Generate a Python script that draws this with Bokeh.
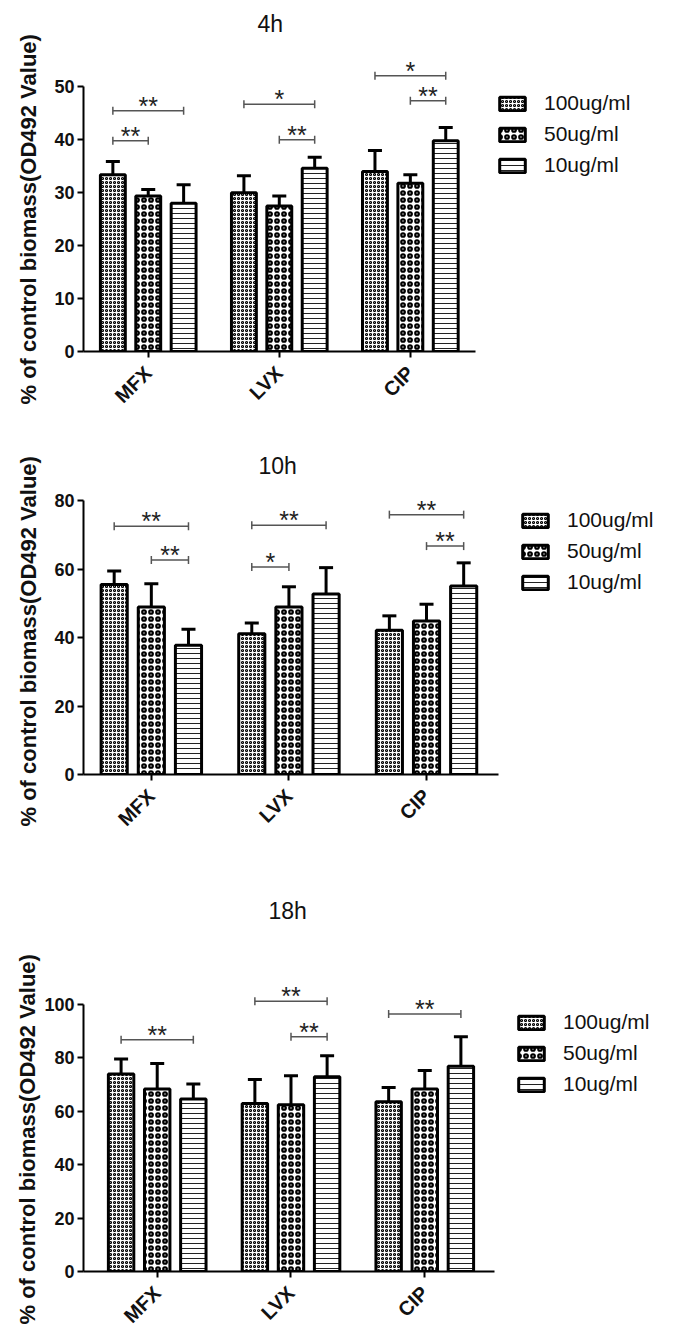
import math
from bokeh.plotting import figure
from bokeh.layouts import column
from bokeh.models import (ColumnDataSource, Whisker, TeeHead, FixedTicker, Legend,
                          LegendItem, Title)
from bokeh.core.properties import value
from bokeh.embed import file_html
from bokeh.resources import INLINE

# ---------------- data ----------------
categories = ["MFX", "LVX", "CIP"]
concentrations = ["100ug/ml", "50ug/ml", "10ug/ml"]
timepoints = ["4h", "10h", "18h"]

# 4h
mean_4h_100 = [33.4, 30.0, 34.0]
sd_4h_100 = [2.5, 3.2, 4.0]
mean_4h_50 = [29.4, 27.5, 31.8]
sd_4h_50 = [1.2, 1.9, 1.6]
mean_4h_10 = [28.0, 34.6, 39.8]
sd_4h_10 = [3.5, 2.1, 2.5]

# 10h
mean_10h_100 = [55.6, 41.2, 42.2]
sd_10h_100 = [3.9, 3.1, 4.2]
mean_10h_50 = [49.0, 49.0, 44.9]
sd_10h_50 = [6.8, 5.9, 4.9]
mean_10h_10 = [37.8, 52.8, 55.1]
sd_10h_10 = [4.7, 7.7, 6.8]

# 18h
mean_18h_100 = [73.8, 62.8, 63.5]
sd_18h_100 = [5.6, 9.0, 5.3]
mean_18h_50 = [68.2, 62.3, 68.2]
sd_18h_50 = [9.6, 10.9, 6.9]
mean_18h_10 = [64.5, 72.8, 76.7]
sd_18h_10 = [5.6, 7.9, 11.1]

# significance brackets: category, group a, group b, height, label
sig_4h_cat = ["MFX", "MFX", "LVX", "LVX", "CIP", "CIP"]
sig_4h_a = [0, 0, 0, 1, 0, 1]
sig_4h_b = [2, 1, 2, 2, 2, 2]
sig_4h_y = [45.5, 39.8, 46.7, 40.0, 52.1, 47.4]
sig_4h_lab = ["**", "**", "*", "**", "*", "**"]

sig_10h_cat = ["MFX", "MFX", "LVX", "LVX", "CIP", "CIP"]
sig_10h_a = [0, 1, 0, 0, 0, 1]
sig_10h_b = [2, 2, 2, 1, 2, 2]
sig_10h_y = [72.6, 62.7, 72.9, 60.7, 76.0, 66.8]
sig_10h_lab = ["**", "**", "**", "*", "**", "**"]

sig_18h_cat = ["MFX", "LVX", "LVX", "CIP"]
sig_18h_a = [0, 0, 1, 0]
sig_18h_b = [2, 2, 2, 2]
sig_18h_y = [86.6, 101.0, 87.8, 96.3]
sig_18h_lab = ["**", "**", "**", "**"]

y_ticks_4h = [0, 10, 20, 30, 40, 50]
y_ticks_10h = [0, 20, 40, 60, 80]
y_ticks_18h = [0, 20, 40, 60, 80, 100]

y_label = "% of control biomass(OD492 Value)"

# ---------------- style / layout ----------------
FONT = "Liberation Sans"
FIG_W = 675
BAR_W = 0.19
OFFSETS = [-0.27, 0.0, 0.27]

HATCH = [
    dict(hatch_pattern="ring", hatch_scale=4, hatch_weight=1.1, hatch_color="black"),
    dict(hatch_pattern="ring", hatch_scale=7, hatch_weight=2.2, hatch_color="black"),
    dict(hatch_pattern="horizontal_line", hatch_scale=5, hatch_weight=1, hatch_color="#222222"),
]

panels = [
    dict(title="4h", means=[mean_4h_100, mean_4h_50, mean_4h_10],
         sds=[sd_4h_100, sd_4h_50, sd_4h_10],
         sig=(sig_4h_cat, sig_4h_a, sig_4h_b, sig_4h_y, sig_4h_lab), ticks=y_ticks_4h,
         height=440, left=78, top=40, bottom=89, x_range=(-0.494, 3.924), y_end=58.76,
         x_bounds=(-0.5, 2.5), title_offset=174, legend_loc=(413, 172),
         ylab_offset=-53, ylab_standoff=22),
    dict(title="10h", means=[mean_10h_100, mean_10h_50, mean_10h_10],
         sds=[sd_10h_100, sd_10h_50, sd_10h_10],
         sig=(sig_10h_cat, sig_10h_a, sig_10h_b, sig_10h_y, sig_10h_lab), ticks=y_ticks_10h,
         height=440, left=82, top=42, bottom=106, x_range=(-0.493, 3.715), y_end=85.4,
         x_bounds=(-0.5, 2.52), title_offset=175, legend_loc=(436, 178),
         ylab_offset=-52, ylab_standoff=22),
    dict(title="18h", means=[mean_18h_100, mean_18h_50, mean_18h_10],
         sds=[sd_18h_100, sd_18h_50, sd_18h_10],
         sig=(sig_18h_cat, sig_18h_a, sig_18h_b, sig_18h_y, sig_18h_lab), ticks=y_ticks_18h,
         height=457, left=83, top=47, bottom=66, x_range=(-0.551, 3.777), y_end=128.6,
         x_bounds=(-0.55, 2.52), title_offset=185, legend_loc=(432, 173),
         ylab_offset=-53, ylab_standoff=4),
]


def make_panel(cfg):
    p = figure(width=FIG_W, height=cfg["height"], x_range=cfg["x_range"],
               y_range=(0, cfg["y_end"]), output_backend="svg", toolbar_location=None,
               min_border_left=cfg["left"], min_border_right=13,
               min_border_top=cfg["top"], min_border_bottom=cfg["bottom"])
    p.title = Title(text=cfg["title"], align="left", offset=cfg["title_offset"],
                    text_font=FONT, text_font_size="23px", text_font_style="normal",
                    text_color="#111111", standoff=8)
    p.outline_line_color = None
    p.grid.visible = False
    p.background_fill_color = "white"
    p.border_fill_color = "white"

    idx = list(range(len(categories)))
    items = []
    for g, conc in enumerate(concentrations):
        xs = [i + OFFSETS[g] for i in idx]
        tops = cfg["means"][g]
        uppers = [m + s for m, s in zip(tops, cfg["sds"][g])]
        src = ColumnDataSource(dict(x=xs, top=tops, upper=uppers))
        r = p.vbar(x="x", top="top", width=BAR_W, bottom=0, source=src,
                   fill_color="white", line_color="black", line_width=3, **HATCH[g])
        w = Whisker(source=src, base="x", lower="top", upper="upper", dimension="height",
                    line_color="black", line_width=3, line_cap="butt",
                    upper_head=TeeHead(size=14, line_width=3, line_color="black"),
                    lower_head=None, level="overlay")
        p.add_layout(w)
        items.append(LegendItem(label=conc, renderers=[r]))

    cat, a, b, ys, labs = cfg["sig"]
    x0 = [categories.index(c) + OFFSETS[ga] for c, ga in zip(cat, a)]
    x1 = [categories.index(c) + OFFSETS[gb] for c, gb in zip(cat, b)]
    xm = [(u + v) / 2 for u, v in zip(x0, x1)]
    ssrc = ColumnDataSource(dict(x0=x0, x1=x1, xm=xm, y=ys, lab=labs))
    br = Whisker(source=ssrc, base="y", lower="x0", upper="x1", dimension="width",
                 line_color="#555555", line_width=1.5,
                 upper_head=TeeHead(size=8, line_width=1.5, line_color="#555555"),
                 lower_head=TeeHead(size=8, line_width=1.5, line_color="#555555"),
                 level="overlay")
    p.add_layout(br)
    p.text(x="xm", y="y", text="lab", source=ssrc, text_align="center",
           text_baseline="alphabetic", y_offset=-5, text_font=value(FONT),
           text_font_size="25px", text_color="#222222")

    legend = Legend(items=items, location=cfg["legend_loc"], orientation="vertical",
                    label_text_font=FONT, label_text_font_size="21px",
                    label_text_color="#111111",
                    glyph_width=32, glyph_height=17, label_standoff=16, spacing=3,
                    label_height=28, padding=0, margin=0, border_line_color=None,
                    background_fill_alpha=0)
    p.add_layout(legend)

    xa = p.xaxis[0]
    xa.ticker = FixedTicker(ticks=idx)
    xa.major_label_overrides = {i: c for i, c in enumerate(categories)}
    xa.major_label_orientation = math.pi / 4
    xa.bounds = cfg["x_bounds"]
    xa.major_label_text_font = FONT
    xa.major_label_text_font_style = "bold"
    xa.major_label_text_font_size = "20px"
    xa.major_label_text_color = "#111111"
    xa.major_label_standoff = 12

    ya = p.yaxis[0]
    ya.ticker = FixedTicker(ticks=cfg["ticks"])
    ya.bounds = (cfg["ticks"][0], cfg["ticks"][-1])
    ya.major_label_text_font = FONT
    ya.major_label_text_font_style = "bold"
    ya.major_label_text_font_size = "18px"
    ya.major_label_text_color = "#111111"
    ya.major_label_standoff = 3

    # y-axis title, anchored along the axis span (0..max tick) rather than the frame
    p.add_layout(Title(text=y_label, align="left", offset=cfg["ylab_offset"],
                       text_font=FONT, text_font_size="22px", text_font_style="bold",
                       text_color="#111111", standoff=cfg["ylab_standoff"]), "left")

    for ax in (xa, ya):
        ax.axis_line_width = 2
        ax.axis_line_color = "black"
        ax.major_tick_line_width = 2
        ax.major_tick_line_color = "black"
        ax.major_tick_out = 6
        ax.major_tick_in = 0
        ax.minor_tick_line_color = None
    return p


figs = [make_panel(c) for c in panels]
layout = column(*figs, spacing=0)

with open("out.html", "w") as f:
    f.write(file_html(layout, INLINE))
